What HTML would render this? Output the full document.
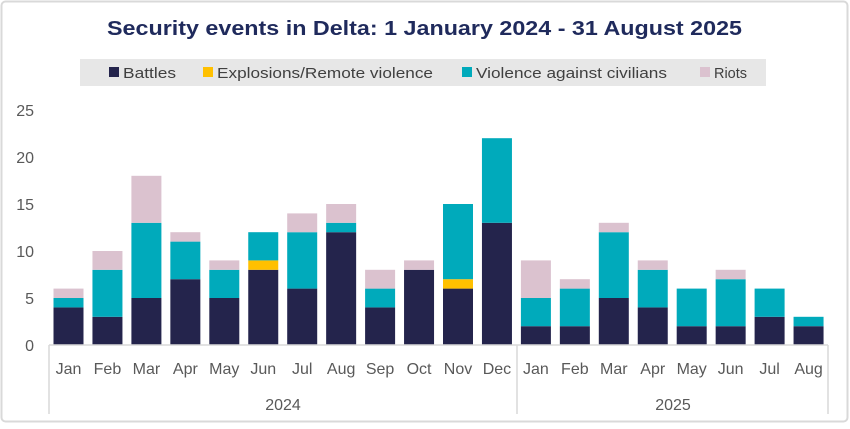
<!DOCTYPE html>
<html><head><meta charset="utf-8"><style>
html,body{margin:0;padding:0;background:#fff}
body{width:850px;height:424px;overflow:hidden;font-family:"Liberation Sans","DejaVu Sans",sans-serif}
</style></head><body>
<svg width="850" height="424" xmlns="http://www.w3.org/2000/svg" font-family="Liberation Sans, DejaVu Sans, sans-serif">
<rect x="1.5" y="1.5" width="846" height="420" rx="4" fill="#fff" stroke="#d9d9d9" stroke-width="2"/>
<text x="107" y="35" textLength="635" lengthAdjust="spacingAndGlyphs" font-size="20" font-weight="bold" fill="#1f2a5c">Security events in Delta: 1 January 2024 - 31 August 2025</text>
<rect x="80" y="59" width="686" height="27" fill="#e7e7e7"/>
<g font-size="15" fill="#404040">
<rect x="109" y="67" width="10" height="10" fill="#24244c"/><text x="123" y="78" textLength="53" lengthAdjust="spacingAndGlyphs">Battles</text>
<rect x="203" y="67" width="10" height="10" fill="#ffc000"/><text x="217" y="78" textLength="216" lengthAdjust="spacingAndGlyphs">Explosions/Remote violence</text>
<rect x="462" y="67" width="10" height="10" fill="#00aabb"/><text x="476" y="78" textLength="191" lengthAdjust="spacingAndGlyphs">Violence against civilians</text>
<rect x="700" y="67" width="10" height="10" fill="#dbc2cf"/><text x="714" y="78" textLength="33" lengthAdjust="spacingAndGlyphs">Riots</text>
</g>
<g font-size="16" fill="#595959" text-anchor="end">
<text x="34" y="351">0</text><text x="34" y="304">5</text><text x="34" y="257">10</text><text x="34" y="210">15</text><text x="34" y="163">20</text><text x="34" y="116">25</text>
</g>
<g id="bars"></g>
<g stroke="#d9d9d9" stroke-width="1.5" fill="none">
<line x1="49" y1="345" x2="828" y2="345"/>
<line x1="49" y1="345" x2="49" y2="414"/>
<line x1="517" y1="345" x2="517" y2="414"/>
<line x1="828" y1="345" x2="828" y2="414"/>
</g>
<g id="labels" font-size="16" fill="#595959" text-anchor="middle"></g>
<g font-size="16" fill="#595959" text-anchor="middle">
<text x="283" y="410">2024</text><text x="673" y="410">2025</text>
</g>
</svg>
<script>
var d=[[4,0,1,1],[3,0,5,2],[5,0,8,5],[7,0,4,1],[5,0,3,1],[8,1,3,0],[6,0,6,2],[12,0,1,2],[4,0,2,2],[8,0,0,1],[6,1,8,0],[13,0,9,0],[2,0,3,4],[2,0,4,1],[5,0,7,1],[4,0,4,1],[2,0,4,0],[2,0,5,1],[3,0,3,0],[2,0,1,0]];
var m=["Jan","Feb","Mar","Apr","May","Jun","Jul","Aug","Sep","Oct","Nov","Dec","Jan","Feb","Mar","Apr","May","Jun","Jul","Aug"];
var c=["#24244c","#ffc000","#00aabb","#dbc2cf"];
var ns="http://www.w3.org/2000/svg",g=document.getElementById("bars"),L=document.getElementById("labels");
var pu=9.4,pitch=(828-49)/20;
d.forEach(function(r,i){var x=49+i*pitch+4.5,y=345;
r.forEach(function(v,k){if(!v)return;var h=v*pu;y-=h;var e=document.createElementNS(ns,"rect");
e.setAttribute("x",x);e.setAttribute("y",y);e.setAttribute("width",30);e.setAttribute("height",h);e.setAttribute("fill",c[k]);g.appendChild(e);});
var t=document.createElementNS(ns,"text");t.setAttribute("x",x+15);t.setAttribute("y",374);t.textContent=m[i];L.appendChild(t);});
</script>
</body></html>
